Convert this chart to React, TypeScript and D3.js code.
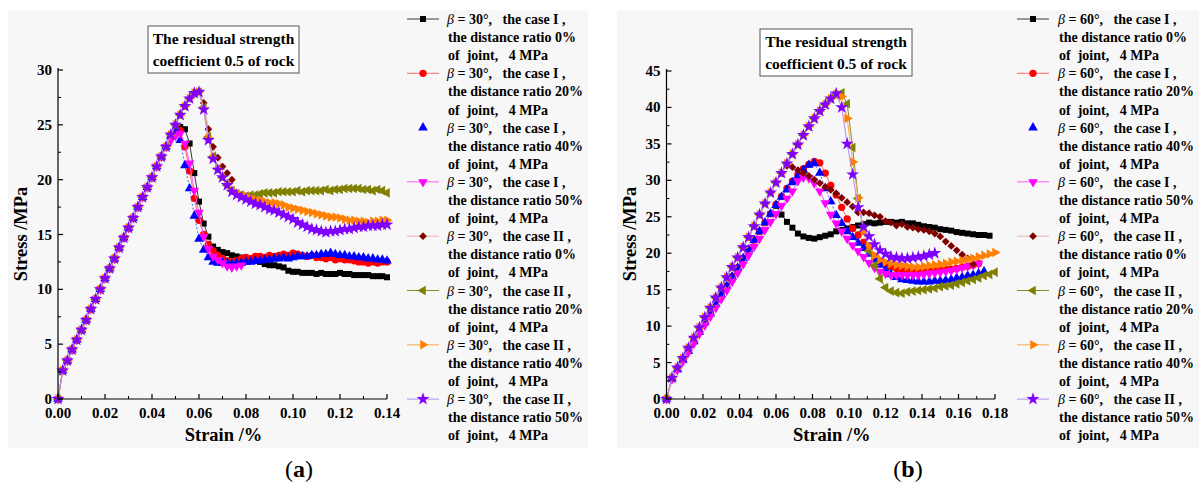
import React from "react";
import * as d3 from "d3";

// ---------- panel (a): beta = 30 deg ----------
const STRAIN_A = [
  0, 0.002, 0.004, 0.006, 0.008, 0.01, 0.012, 0.014, 0.016, 0.018,
  0.02, 0.022, 0.024, 0.026, 0.028, 0.03, 0.032, 0.034, 0.036, 0.038,
  0.04, 0.042, 0.044, 0.046, 0.048, 0.05, 0.052, 0.054, 0.056, 0.058,
  0.06, 0.062, 0.064, 0.066, 0.068, 0.07, 0.072, 0.074, 0.076, 0.078,
  0.08, 0.082, 0.084, 0.086, 0.088, 0.09, 0.092, 0.094, 0.096, 0.098,
  0.1, 0.102, 0.104, 0.106, 0.108, 0.11, 0.112, 0.114, 0.116, 0.118,
  0.12, 0.122, 0.124, 0.126, 0.128, 0.13, 0.132, 0.134, 0.136, 0.138, 0.14,
];

const A_I_0 = [
  0, 2.6, 3.5, 4.5, 5.4, 6.3, 7.2, 8.2, 9.1, 10.0, 11.0, 11.9, 12.8, 13.8, 14.7, 15.6, 16.5, 17.5, 18.4, 19.3,
  20.2, 21.2, 22.1, 23.0, 24.0, 24.6, 24.8, 24.6, 23.3, 20.6, 18.0, 16.0, 14.8, 13.9, 13.6, 13.4, 13.3, 13.1, 13.0, 12.9,
  12.8, 12.7, 12.6, 12.5, 12.3, 12.2, 12.2, 12.1, 12.0, 11.7, 11.6, 11.6, 11.5, 11.5, 11.5, 11.4, 11.5, 11.4, 11.4, 11.4,
  11.5, 11.4, 11.4, 11.3, 11.3, 11.3, 11.3, 11.2, 11.2, 11.2, 11.1,
];
const A_I_20 = [
  0, 2.6, 3.5, 4.5, 5.4, 6.3, 7.2, 8.2, 9.1, 10.0, 11.0, 11.9, 12.8, 13.8, 14.7, 15.6, 16.5, 17.5, 18.4, 19.3,
  20.2, 21.2, 22.1, 23.0, 23.8, 24.3, 24.5, 23.0, 20.8, 18.3, 16.3, 15.0, 14.1, 13.5, 13.1, 12.8, 12.6, 12.5, 12.6, 12.8,
  12.9, 12.8, 13.0, 13.0, 12.9, 13.1, 13.0, 13.1, 13.2, 13.1, 13.3, 13.2, 13.1, 13.0, 13.1, 12.9, 12.9, 12.8, 12.9, 12.7,
  12.8, 12.7, 12.7, 12.6, 12.5, 12.5, 12.4, 12.5, 12.4, 12.5, 12.5,
];
const A_I_40 = [
  0, 2.6, 3.5, 4.5, 5.4, 6.3, 7.2, 8.2, 9.1, 10.0, 11.0, 11.9, 12.8, 13.8, 14.7, 15.6, 16.5, 17.5, 18.4, 19.3,
  20.2, 21.2, 22.1, 23.0, 24.0, 24.6, 23.6, 21.3, 19.2, 16.7, 14.6, 13.6, 12.9, 12.5, 12.4, 12.4, 12.4, 12.3, 12.4, 12.4,
  12.5, 12.5, 12.6, 12.6, 12.7, 12.7, 12.8, 12.8, 12.9, 12.8, 12.9, 13.0, 13.0, 13.0, 13.1, 13.1, 13.2, 13.2, 13.3, 13.2,
  13.1, 13.1, 13.0, 13.0, 12.9, 12.9, 12.8, 12.8, 12.7, 12.7, 12.6,
];
const A_I_50 = [
  0, 2.6, 3.5, 4.5, 5.4, 6.3, 7.2, 8.2, 9.1, 10.0, 11.0, 11.9, 12.8, 13.8, 14.7, 15.6, 16.5, 17.5, 18.4, 19.3,
  20.2, 21.2, 22.1, 23.0, 23.6, 24.0, 24.2, 23.3, 21.5, 19.0, 17.0, 14.8, 13.7, 13.0, 12.7, 12.4, 12.1, 12.0, 12.1, 12.2,
];
const A_II_0 = [
  0, 2.6, 3.5, 4.5, 5.4, 6.3, 7.2, 8.2, 9.1, 10.0, 11.0, 11.9, 12.8, 13.8, 14.7, 15.6, 16.5, 17.5, 18.4, 19.3,
  20.2, 21.2, 22.1, 23.0, 24.1, 25.0, 25.9, 26.7, 27.4, 27.9, 28.0, 27.0, 24.6, 23.0, 22.0, 21.2, 20.6, 20.0,
];
const A_II_20 = [
  0, 2.6, 3.5, 4.5, 5.4, 6.3, 7.2, 8.2, 9.1, 10.0, 11.0, 11.9, 12.8, 13.8, 14.7, 15.6, 16.5, 17.5, 18.4, 19.3,
  20.2, 21.2, 22.1, 23.0, 24.1, 25.0, 25.9, 26.7, 27.4, 27.9, 28.0, 26.6, 23.9, 22.1, 21.0, 20.2, 19.5, 19.0, 18.7, 18.6,
  18.5, 18.6, 18.6, 18.7, 18.8, 18.8, 18.8, 18.9, 18.9, 18.9, 18.9, 19.0, 18.9, 19.0, 19.0, 19.0, 19.0, 19.1, 19.0, 19.1,
  19.1, 19.2, 19.2, 19.2, 19.2, 19.1, 19.1, 19.0, 19.1, 19.0, 18.8,
];
const A_II_40 = [
  0, 2.6, 3.5, 4.5, 5.4, 6.3, 7.2, 8.2, 9.1, 10.0, 11.0, 11.9, 12.8, 13.8, 14.7, 15.6, 16.5, 17.5, 18.4, 19.3,
  20.2, 21.2, 22.1, 23.0, 24.1, 25.0, 25.9, 26.7, 27.4, 27.9, 28.0, 26.5, 23.8, 22.0, 21.0, 20.3, 19.6, 19.0, 18.8, 18.6,
  18.5, 18.3, 18.2, 18.1, 18.0, 17.9, 17.9, 17.8, 17.7, 17.5, 17.4, 17.3, 17.2, 17.1, 17.0, 16.9, 16.8, 16.7, 16.6, 16.6,
  16.5, 16.4, 16.3, 16.3, 16.2, 16.2, 16.1, 16.2, 16.2, 16.3, 16.3,
];
const A_II_50 = [
  0, 2.6, 3.5, 4.5, 5.4, 6.3, 7.2, 8.2, 9.1, 10.0, 11.0, 11.9, 12.8, 13.8, 14.7, 15.6, 16.5, 17.5, 18.4, 19.3,
  20.2, 21.2, 22.1, 23.0, 24.1, 25.0, 25.9, 26.7, 27.4, 27.9, 28.0, 26.4, 23.6, 21.9, 20.9, 20.2, 19.5, 18.9, 18.6, 18.4,
  18.2, 18.0, 17.8, 17.7, 17.5, 17.3, 17.2, 17.0, 16.8, 16.6, 16.4, 16.1, 15.9, 15.7, 15.5, 15.4, 15.3, 15.2, 15.3, 15.3,
  15.4, 15.5, 15.5, 15.6, 15.7, 15.7, 15.8, 15.8, 15.8, 15.9, 15.9,
];

// ---------- panel (b): beta = 60 deg ----------
const STRAIN_B = [
  0, 0.003, 0.006, 0.009, 0.012, 0.015, 0.018, 0.021, 0.024, 0.027,
  0.03, 0.033, 0.036, 0.039, 0.042, 0.045, 0.048, 0.051, 0.054, 0.057,
  0.06, 0.063, 0.066, 0.069, 0.072, 0.075, 0.078, 0.081, 0.084, 0.087,
  0.09, 0.093, 0.096, 0.099, 0.102, 0.105, 0.108, 0.111, 0.114, 0.117,
  0.12, 0.123, 0.126, 0.129, 0.132, 0.135, 0.138, 0.141, 0.144, 0.147,
  0.15, 0.153, 0.156, 0.159, 0.162, 0.165, 0.168, 0.171, 0.174, 0.177, 0.18,
];

const B_I_0 = [
  0, 2.8, 4.1, 5.4, 6.6, 7.9, 9.2, 10.5, 11.7, 13.0, 14.3, 15.5, 16.8, 18.0, 19.3, 20.5, 21.8, 23.0, 24.2, 25.4,
  26.5, 25.3, 24.3, 23.5, 22.7, 22.3, 22.1, 22.0, 22.2, 22.4, 22.6, 23.0, 23.2, 23.4, 23.6, 23.8, 24.0, 24.2, 24.1, 24.2,
  24.3, 24.3, 24.2, 24.3, 24.1, 24.1, 23.9, 23.7, 23.6, 23.5, 23.3, 23.2, 23.1, 22.9, 22.8, 22.7, 22.6, 22.5, 22.5, 22.4,
];
const B_I_20 = [
  0, 2.8, 4.1, 5.4, 6.6, 7.9, 9.2, 10.5, 11.7, 13.0, 14.3, 15.5, 16.8, 18.0, 19.3, 20.5, 21.8, 23.0, 24.2, 25.4,
  26.7, 27.8, 28.9, 29.9, 30.8, 31.6, 32.2, 32.6, 32.4, 31.0, 29.3, 28.0, 26.3, 24.7, 23.4, 22.5, 21.5, 20.6, 19.6, 18.9,
  18.5, 18.1, 17.9, 17.8, 17.7, 17.6, 17.5, 17.5, 17.6, 17.6, 17.7, 17.8, 17.8, 17.9, 18.1, 18.2, 18.4, 18.6,
];
const B_I_40 = [
  0, 2.8, 4.1, 5.4, 6.6, 7.9, 9.2, 10.5, 11.7, 13.0, 14.3, 15.5, 16.8, 18.0, 19.3, 20.5, 21.8, 23.0, 24.2, 25.4,
  26.6, 27.7, 28.7, 29.7, 30.6, 31.4, 32.1, 32.3, 31.0, 28.9, 27.1, 25.2, 24.1, 23.0, 22.2, 21.4, 20.7, 19.9, 19.1, 18.4,
  17.7, 17.1, 16.7, 16.4, 16.3, 16.2, 16.1, 16.1, 16.1, 16.2, 16.2, 16.3, 16.4, 16.6, 16.7, 16.9, 17.0, 17.2, 17.5,
];
const B_I_50 = [
  0, 2.7, 4.0, 5.2, 6.4, 7.6, 8.9, 10.1, 11.3, 12.5, 13.7, 14.9, 16.1, 17.3, 18.5, 19.7, 20.9, 22.0, 23.2, 24.3,
  25.4, 26.5, 27.5, 28.5, 29.9, 30.4, 30.3, 29.6, 28.5, 26.9, 25.3, 24.1, 23.0, 22.0, 21.1, 20.3, 19.5, 18.7, 18.0, 17.5,
  17.2, 17.0, 17.0, 17.0, 17.0, 17.0, 17.0, 17.1, 17.2, 17.3, 17.4, 17.5, 17.6, 17.8, 18.0, 18.2, 18.4, 18.6,
];
const B_II_0 = [
  0, 2.9, 4.3, 5.6, 7.0, 8.4, 9.8, 11.2, 12.5, 13.9, 15.3, 16.7, 18.1, 19.4, 20.8, 22.2, 23.7, 25.3, 26.8, 28.3,
  29.7, 31.0, 32.0, 31.8, 31.4, 31.0, 30.6, 30.1, 29.6, 29.1, 28.7, 28.2, 27.6, 27.0, 26.4, 25.6, 25.6, 25.5, 25.2, 25.0,
  24.4, 24.2, 23.8, 24.0, 23.6, 23.5, 23.3, 23.2, 23.0, 22.7, 22.3, 21.6, 21.0, 20.4, 19.8, 19.3, 18.5,
];
const B_II_20 = [
  0, 2.9, 4.3, 5.6, 7.0, 8.4, 9.8, 11.2, 12.5, 13.9, 15.3, 16.7, 18.1, 19.4, 20.8, 22.2, 23.7, 25.3, 26.8, 28.3,
  29.7, 31.0, 32.3, 33.6, 34.9, 36.2, 37.4, 38.5, 39.5, 40.4, 41.2, 41.7, 42.0, 40.5, 34.5, 27.5, 23.0, 20.3, 18.3, 16.5,
  15.3, 14.8, 14.6, 14.5, 14.7, 14.8, 14.9, 15.0, 15.1, 15.2, 15.4, 15.5, 15.6, 15.8, 16.0, 16.2, 16.4, 16.6, 16.9, 17.1, 17.4,
];
const B_II_40 = [
  0, 2.9, 4.3, 5.6, 7.0, 8.4, 9.8, 11.2, 12.5, 13.9, 15.3, 16.7, 18.1, 19.4, 20.8, 22.2, 23.7, 25.3, 26.8, 28.3,
  29.7, 31.0, 32.3, 33.6, 34.9, 36.2, 37.4, 38.5, 39.5, 40.4, 41.2, 41.8, 41.5, 38.5, 32.5, 27.6, 23.0, 21.0, 19.7, 19.1,
  18.8, 18.6, 18.4, 18.3, 18.2, 18.1, 18.1, 18.2, 18.3, 18.4, 18.5, 18.6, 18.8, 18.9, 19.0, 19.2, 19.3, 19.5, 19.7, 19.9, 20.1,
];
const B_II_50 = [
  0, 2.9, 4.3, 5.6, 7.0, 8.4, 9.8, 11.2, 12.5, 13.9, 15.3, 16.7, 18.1, 19.4, 20.8, 22.2, 23.7, 25.3, 26.8, 28.3,
  29.7, 31.0, 32.3, 33.6, 34.9, 36.2, 37.4, 38.5, 39.5, 40.4, 41.2, 41.9, 40.0, 35.0, 30.8, 26.3, 23.6, 22.3, 21.2, 20.4,
  19.9, 19.5, 19.4, 19.3, 19.3, 19.4, 19.5, 19.6, 19.8, 20.0,
];

// ---------- labels ----------
const CASES = ["I", "I", "I", "I", "II", "II", "II", "II"];
const RATIOS = ["0%", "20%", "40%", "50%", "0%", "20%", "40%", "50%"];
const X_TICKS_A = [0, 0.02, 0.04, 0.06, 0.08, 0.1, 0.12, 0.14];
const Y_TICKS_A = [0, 5, 10, 15, 20, 25, 30];
const X_TICKS_B = [0, 0.02, 0.04, 0.06, 0.08, 0.1, 0.12, 0.14, 0.16, 0.18];
const Y_TICKS_B = [0, 5, 10, 15, 20, 25, 30, 35, 40, 45];
const TITLE_LINES = ["The residual strength", "coefficient 0.5 of rock"];

type Marker = "square" | "circle" | "up" | "down" | "diamond" | "left" | "right" | "star";

const STYLES: { color: string; line: string; dash?: string; marker: Marker }[] = [
  { color: "#000000", line: "#3a3a3a", marker: "square" },
  { color: "#ff0000", line: "#ff6a6a", marker: "circle" },
  { color: "#0000ff", line: "#5a5aff", dash: "2,2", marker: "up" },
  { color: "#ff00ff", line: "#ff55ff", marker: "down" },
  { color: "#800000", line: "#e2b4b4", marker: "diamond" },
  { color: "#808000", line: "#8c8c20", marker: "left" },
  { color: "#ff8000", line: "#ffa850", marker: "right" },
  { color: "#8000ff", line: "#b888ff", marker: "star" },
];

const FONT = "'Liberation Serif', 'Times New Roman', serif";

function markerNode(kind: Marker, cx: number, cy: number, color: string, key: string | number) {
  let type: d3.SymbolType = d3.symbolSquare;
  let size = 38;
  let rot = 0;
  switch (kind) {
    case "square": type = d3.symbolSquare; size = 36; break;
    case "circle": type = d3.symbolCircle; size = 42; break;
    case "up": type = d3.symbolTriangle; size = 40; break;
    case "down": type = d3.symbolTriangle; size = 40; rot = 180; break;
    case "diamond": type = d3.symbolSquare; size = 30; rot = 45; break;
    case "left": type = d3.symbolTriangle; size = 40; rot = -90; break;
    case "right": type = d3.symbolTriangle; size = 40; rot = 90; break;
    case "star": type = d3.symbolStar; size = 52; break;
  }
  const d = d3.symbol(type, size)() as string;
  return (
    <path key={key} d={d} fill={color} transform={`translate(${cx},${cy}) rotate(${rot})`} />
  );
}

interface PanelCfg {
  beta: string;
  strain: number[];
  series: number[][];
  xMax: number;
  yMax: number;
  xTicks: number[];
  yTicks: number[];
  left: number;
  right: number;
  top: number;
  bottom: number;
  bg: [number, number, number, number];
  titleBox: [number, number, number, number];
  legendLine: [number, number];
  legendText: number;
  yLabelX: number;
  tag: string;
  tagX: number;
}

function Panel({ cfg }: { cfg: PanelCfg }) {
  const x = d3.scaleLinear().domain([0, cfg.xMax]).range([cfg.left, cfg.right]);
  const y = d3.scaleLinear().domain([0, cfg.yMax]).range([cfg.bottom, cfg.top]);
  const xStep = cfg.xTicks[1] - cfg.xTicks[0];
  const yStep = cfg.yTicks[1] - cfg.yTicks[0];
  const xMinor = cfg.xTicks.slice(0, -1).map((t) => t + xStep / 2);
  const yMinor = cfg.yTicks.slice(0, -1).map((t) => t + yStep / 2);
  const [bx, by, bw, bh] = cfg.titleBox;

  return (
    <g>
      <rect x={cfg.bg[0]} y={cfg.bg[1]} width={cfg.bg[2]} height={cfg.bg[3]} fill="#f7f7f7" />

      {/* curves */}
      {cfg.series.map((vals, k) => {
        const st = STYLES[k];
        const pts: [number, number][] = vals.map((v, i) => [cfg.strain[i], v]);
        const line = d3
          .line<[number, number]>()
          .x((p) => x(p[0]))
          .y((p) => y(p[1]));
        return (
          <g key={k}>
            <path d={line(pts) as string} fill="none" stroke={st.line} strokeWidth={1} strokeDasharray={st.dash} />
            {pts.map((p, i) => markerNode(st.marker, x(p[0]), y(p[1]), st.color, i))}
          </g>
        );
      })}

      {/* axes */}
      <line x1={cfg.left} x2={cfg.right} y1={cfg.bottom} y2={cfg.bottom} stroke="#000" strokeWidth={1.2} />
      <line x1={cfg.left} x2={cfg.left} y1={cfg.bottom} y2={cfg.top - 2} stroke="#000" strokeWidth={1.2} />
      {cfg.xTicks.map((t) => (
        <g key={"xt" + t}>
          <line x1={x(t)} x2={x(t)} y1={cfg.bottom} y2={cfg.bottom - 5} stroke="#000" strokeWidth={1.2} />
          <text x={x(t)} y={cfg.bottom + 19} textAnchor="middle" fontFamily={FONT} fontWeight="bold" fontSize={15}>
            {t.toFixed(2)}
          </text>
        </g>
      ))}
      {xMinor.map((t) => (
        <line key={"xm" + t} x1={x(t)} x2={x(t)} y1={cfg.bottom} y2={cfg.bottom - 3} stroke="#000" strokeWidth={1} />
      ))}
      {cfg.yTicks.map((t) => (
        <g key={"yt" + t}>
          <line x1={cfg.left} x2={cfg.left + 5} y1={y(t)} y2={y(t)} stroke="#000" strokeWidth={1.2} />
          <text x={cfg.left - 6} y={y(t) + 5} textAnchor="end" fontFamily={FONT} fontWeight="bold" fontSize={15}>
            {t}
          </text>
        </g>
      ))}
      {yMinor.map((t) => (
        <line key={"ym" + t} x1={cfg.left} x2={cfg.left + 3} y1={y(t)} y2={y(t)} stroke="#000" strokeWidth={1} />
      ))}

      {/* axis titles */}
      <text x={(cfg.left + cfg.right) / 2 + 1} y={441} textAnchor="middle" fontFamily={FONT} fontWeight="bold" fontSize={18.5}>
        Strain /%
      </text>
      <text
        transform={`translate(${cfg.yLabelX},${234}) rotate(-90)`}
        textAnchor="middle"
        fontFamily={FONT}
        fontWeight="bold"
        fontSize={18.5}
      >
        Stress /MPa
      </text>

      {/* annotation box */}
      <rect x={bx} y={by} width={bw} height={bh} fill="#fff" stroke="#555" strokeWidth={1} />
      {TITLE_LINES.map((s, i) => (
        <text
          key={s}
          x={bx + bw / 2}
          y={by + 18 + i * 22}
          textAnchor="middle"
          fontFamily={FONT}
          fontWeight="bold"
          fontSize={15.5}
        >
          {s}
        </text>
      ))}

      {/* legend */}
      {STYLES.map((st, k) => {
        const base = 24 + k * 54.3;
        const cy = base - 5;
        const [lx1, lx2] = cfg.legendLine;
        return (
          <g key={"lg" + k}>
            {st.marker !== "up" && (
              <line x1={lx1} x2={lx2} y1={cy} y2={cy} stroke={st.line} strokeWidth={1} strokeDasharray={st.dash} />
            )}
            {markerNode(st.marker, (lx1 + lx2) / 2, cy, st.color, "m")}
            <text fontFamily={FONT} fontWeight="bold" fontSize={14} style={{ whiteSpace: "pre" }}>
              <tspan x={cfg.legendText} y={base}>
                <tspan fontStyle="italic" fontWeight="normal">β</tspan>
                {` = ${cfg.beta}°,   the case ${CASES[k]} ,`}
              </tspan>
              <tspan x={cfg.legendText + 1} y={base + 18.1}>{`the distance ratio ${RATIOS[k]}`}</tspan>
              <tspan x={cfg.legendText + 1} y={base + 36.2}>{"of  joint,   4 MPa"}</tspan>
            </text>
          </g>
        );
      })}

      {/* panel tag */}
      <text x={cfg.tagX} y={477} textAnchor="middle" fontFamily={FONT} fontSize={24}>
        (<tspan fontWeight="bold">{cfg.tag}</tspan>)
      </text>
    </g>
  );
}

const PANEL_A: PanelCfg = {
  beta: "30",
  strain: STRAIN_A,
  series: [A_I_0, A_I_20, A_I_40, A_I_50, A_II_0, A_II_20, A_II_40, A_II_50],
  xMax: 0.14,
  yMax: 30,
  xTicks: X_TICKS_A,
  yTicks: Y_TICKS_A,
  left: 58,
  right: 387,
  top: 70,
  bottom: 399,
  bg: [8, 10, 580, 438],
  titleBox: [148, 26, 151, 47],
  legendLine: [407, 439],
  legendText: 447,
  yLabelX: 27,
  tag: "a",
  tagX: 299,
};

const PANEL_B: PanelCfg = {
  beta: "60",
  strain: STRAIN_B,
  series: [B_I_0, B_I_20, B_I_40, B_I_50, B_II_0, B_II_20, B_II_40, B_II_50],
  xMax: 0.18,
  yMax: 45,
  xTicks: X_TICKS_B,
  yTicks: Y_TICKS_B,
  left: 666.5,
  right: 995,
  top: 71,
  bottom: 399,
  bg: [617, 10, 582, 438],
  titleBox: [760, 29, 152, 47],
  legendLine: [1017, 1049],
  legendText: 1058,
  yLabelX: 636,
  tag: "b",
  tagX: 908,
};

export default function App() {
  return (
    <svg
      width={1199}
      height={488}
      viewBox="0 0 1199 488"
      style={{ position: "absolute", left: 0, top: 0, display: "block", background: "#fff" }}
    >
      <Panel cfg={PANEL_A} />
      <Panel cfg={PANEL_B} />
    </svg>
  );
}
